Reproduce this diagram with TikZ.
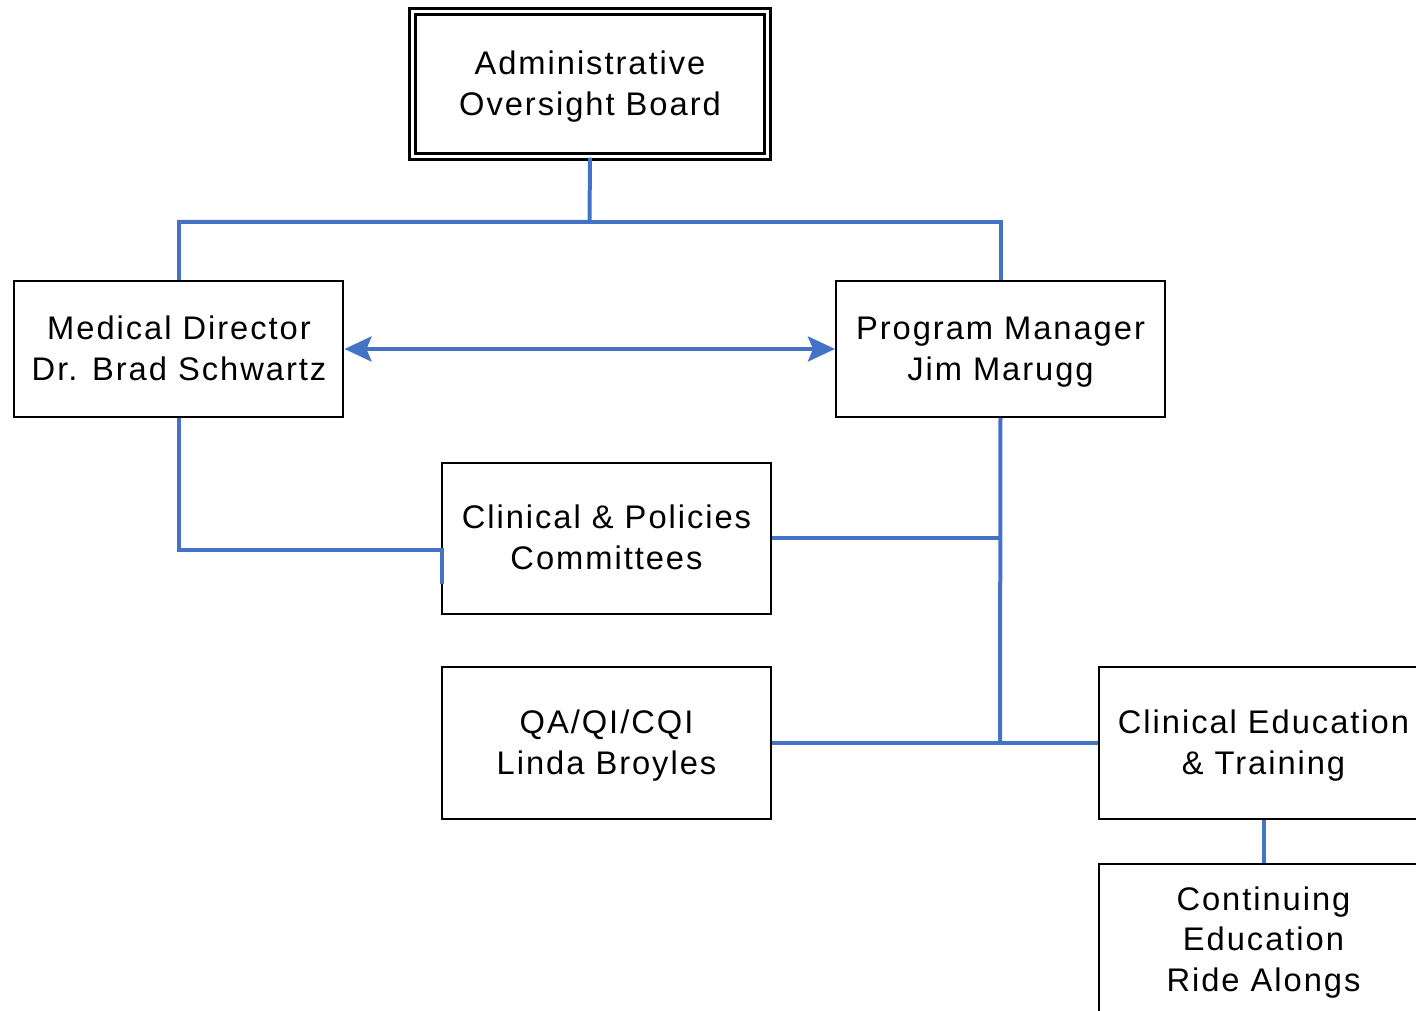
\documentclass[tikz,border=0pt]{standalone}
\usepackage{fontspec}
\setmainfont{Liberation Sans}[LetterSpace=6]
\usetikzlibrary{arrows.meta}
\definecolor{conn}{HTML}{4472C4}
\newcommand{\topstrut}{\rule{0pt}{0.78\baselineskip}}
\newcommand{\botstrut}{\rule[-0.25\baselineskip]{0pt}{0.25\baselineskip}}
\tikzset{
  box/.style={draw=black, line width=0.02cm, fill=white, align=center, inner sep=0pt,
    minimum width=3.29cm, font=\fontsize{9.3}{11.6}\selectfont},
  link/.style={draw=conn, line width=0.04cm},
}
\begin{document}
\begin{tikzpicture}
\useasboundingbox (0,0) rectangle (14.16,-10.11);
\clip (0,0) rectangle (14.16,-10.11);
\node[box, double, double distance=0.035cm, line width=0.025cm, minimum width=3.55cm, minimum height=1.45cm] (aob) at (5.90,-0.84) {\topstrut Administrative\\Oversight Board\botstrut};
\node[box, minimum height=1.36cm] (md) at (1.79,-3.49) {\topstrut Medical Director\\Dr. Brad Schwartz\botstrut};
\node[box, minimum height=1.36cm] (pm) at (10.005,-3.49) {\topstrut Program Manager\\Jim Marugg\botstrut};
\node[box, minimum height=1.51cm] (cpc) at (6.065,-5.385) {\topstrut Clinical \& Policies\\Committees\botstrut};
\node[box, minimum height=1.52cm] (qa) at (6.065,-7.43) {\topstrut QA/QI/CQI\\Linda Broyles\botstrut};
\node[box, minimum height=1.52cm] (cet) at (12.635,-7.43) {\topstrut Clinical Education\\\& Training\botstrut};
\node[box, minimum height=1.52cm] (ce) at (12.635,-9.40) {\topstrut Continuing\\Education\\Ride Alongs\botstrut};
\coordinate (top) at (5.895,-2.22);
\coordinate (mdc) at (1.79,-5.50);
\coordinate (cpl) at (4.42,-5.50);
\coordinate (cplow) at (4.42,-5.84);
\coordinate (pmj1) at (10.00,-5.385);
\coordinate (pmj2) at (10.00,-7.43);
\draw[link] (aob.south) -- (top) -| (md.north);
\draw[link] (top) -| (pm.north);
\draw[link, {Stealth[length=0.27cm,width=0.25cm,inset=0.05cm]}-{Stealth[length=0.27cm,width=0.25cm,inset=0.05cm]}] (md.east) -- (pm.west);
\draw[link] (md.south) -- (mdc) -- (cpl) -- (cplow);
\draw[link] (pm.south) -- (pmj2);
\draw[link] (cpc.east) -- (pmj1);
\draw[link] (qa.east) -- (cet.west);
\draw[link] (cet.south) -- (ce.north);
\end{tikzpicture}
\end{document}
